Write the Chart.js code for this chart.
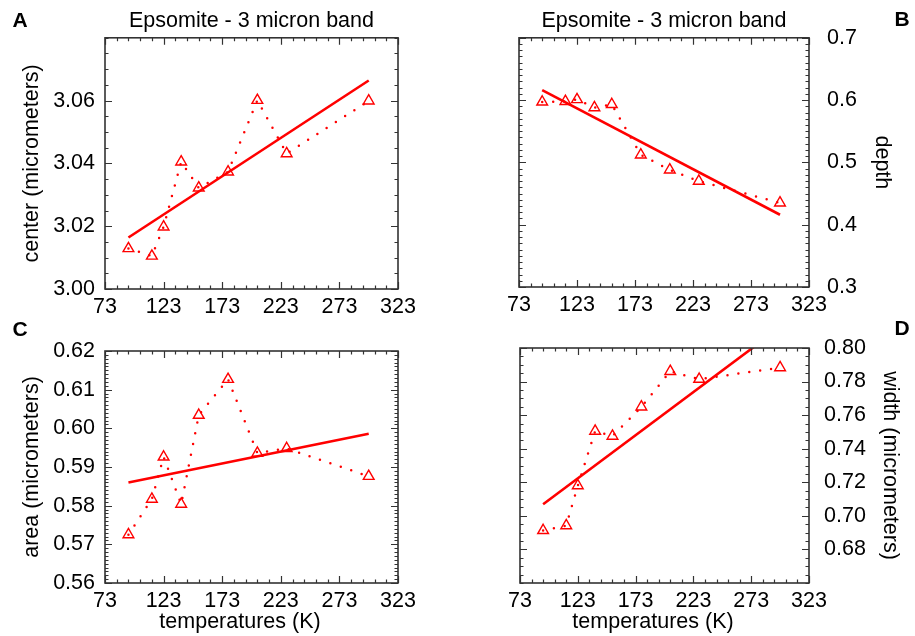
<!DOCTYPE html>
<html>
<head>
<meta charset="utf-8">
<script src="https://cdn.jsdelivr.net/npm/chart.js@4.4.1/dist/chart.umd.min.js"></script>
<style>
  body { margin: 0; background: #fff; }
  canvas { position: absolute; }
</style>
</head>
<body>
<canvas id="panelA" width="457" height="318" style="left:0;top:0"></canvas>
<canvas id="panelB" width="458" height="318" style="left:457px;top:0"></canvas>
<canvas id="panelC" width="457" height="318" style="left:0;top:318px"></canvas>
<canvas id="panelD" width="458" height="318" style="left:457px;top:318px"></canvas>
<script>
// measured temperatures (K)
const temps = [93, 113, 123, 138, 153, 178, 203, 228, 298];

// band parameters at each temperature
const center = [3.0129, 3.0105, 3.0198, 3.0405, 3.0322, 3.0373, 3.0601, 3.0431, 3.0599];
const depth = [0.597, 0.598, 0.601, 0.588, 0.593, 0.512, 0.488, 0.470, 0.435];
const area = [0.5725, 0.5817, 0.5926, 0.5804, 0.6034, 0.6127, 0.5936, 0.5948, 0.5876];
const width = [0.6913, 0.6942, 0.7180, 0.7505, 0.7475, 0.7649, 0.7861, 0.7814, 0.7883];

// linear fits, end points
const fitTemps = [93, 298];
const centerFit = [3.0164, 3.0664];
const depthFit = [0.616, 0.416];
const areaFit = [0.5860, 0.5986];
const widthFit = [0.7069, 0.8123];

// labelled ticks
const tempTicks = ['73', '123', '173', '223', '273', '323'];
const centerTicks = ['3.00', '3.02', '3.04', '3.06'];
const depthTicks = ['0.3', '0.4', '0.5', '0.6', '0.7'];
const areaTicks = ['0.56', '0.57', '0.58', '0.59', '0.60', '0.61', '0.62'];
const widthTicks = ['0.68', '0.70', '0.72', '0.74', '0.76', '0.78', '0.80'];

const RED = '#ff0000';
const FONT = "'Liberation Sans', Arial, sans-serif";

Chart.defaults.font.family = FONT;
Chart.defaults.color = '#000';

function pickLabels(labels) {
    return function (value) {
        const hit = labels.find(s => Math.abs(Number(s) - value) < 1e-6);
        return hit === undefined ? '' : hit;
    };
}

function pairs(xs, ys) {
    return xs.map((x, i) => ({x: x, y: ys[i]}));
}

// box around the plot with inward ticks on all four sides, panel letter, x title
const panelFrame = {
    id: 'panelFrame',
    afterDraw(chart, args, opts) {
        const ctx = chart.ctx;
        const a = chart.chartArea;
        const xs = chart.scales.x;
        const ys = chart.scales.y;
        ctx.save();
        ctx.strokeStyle = '#333';
        ctx.lineWidth = 1.2;
        ctx.beginPath();
        xs.ticks.forEach(t => {
            const px = Math.round(xs.getPixelForValue(t.value)) + 0.5;
            const len = t.label ? 7 : 3.5;
            ctx.moveTo(px, a.bottom); ctx.lineTo(px, a.bottom - len);
            ctx.moveTo(px, a.top); ctx.lineTo(px, a.top + len);
        });
        ys.ticks.forEach(t => {
            const py = Math.round(ys.getPixelForValue(t.value)) + 0.5;
            const len = t.label ? 7 : 3.5;
            ctx.moveTo(a.left, py); ctx.lineTo(a.left + len, py);
            ctx.moveTo(a.right, py); ctx.lineTo(a.right - len, py);
        });
        ctx.stroke();
        ctx.lineWidth = 1.6;
        ctx.strokeRect(a.left, a.top, a.right - a.left, a.bottom - a.top);

        ctx.fillStyle = '#000';
        ctx.textAlign = 'center';
        ctx.textBaseline = 'middle';
        ctx.font = 'bold 21px ' + FONT;
        ctx.fillText(opts.letter, opts.letterX, opts.letterY);
        if (opts.xTitle) {
            ctx.font = '21.5px ' + FONT;
            ctx.fillText(opts.xTitle, opts.xTitleX, opts.xTitleY);
        }
        ctx.restore();
    }
};

function makePanel(id, cfg) {
    const ctx = document.getElementById(id).getContext('2d');
    return new Chart(ctx, {
        type: 'scatter',
        data: {
            datasets: [{
                data: pairs(temps, cfg.values),
                showLine: true,
                borderColor: RED,
                borderWidth: 2.5,
                borderDash: [0, 11],
                borderCapStyle: 'round',
                pointStyle: 'triangle',
                pointRadius: 6.2,
                pointBorderWidth: 1.4,
                pointBorderColor: RED,
                pointBackgroundColor: 'rgba(0,0,0,0)'
            }, {
                data: pairs(fitTemps, cfg.fit),
                showLine: true,
                borderColor: RED,
                borderWidth: 2.6,
                pointRadius: 0
            }]
        },
        options: {
            responsive: false,
            animation: false,
            events: [],
            layout: { padding: cfg.padding },
            scales: {
                x: {
                    type: 'linear',
                    min: 73,
                    max: 323,
                    grid: { display: false, drawTicks: false },
                    border: { display: false },
                    afterFit: s => { s.height = cfg.xHeight; },
                    ticks: {
                        stepSize: 10,
                        autoSkip: false,
                        maxRotation: 0,
                        padding: 5,
                        font: { size: 21.5 },
                        callback: pickLabels(tempTicks)
                    }
                },
                y: {
                    type: 'linear',
                    position: cfg.yPos,
                    min: cfg.yMin,
                    max: cfg.yMax,
                    grid: { display: false, drawTicks: false },
                    border: { display: false },
                    afterFit: s => { s.width = cfg.yWidth; },
                    title: {
                        display: true,
                        text: cfg.yTitle,
                        font: { size: 21.5 },
                        padding: { top: cfg.yTitlePad }
                    },
                    ticks: {
                        stepSize: cfg.yStep,
                        autoSkip: false,
                        padding: cfg.yTickPad,
                        font: { size: 21.5 },
                        callback: pickLabels(cfg.yTicks)
                    }
                }
            },
            plugins: {
                legend: { display: false },
                tooltip: { enabled: false },
                title: {
                    display: !!cfg.title,
                    text: cfg.title,
                    fullSize: false,
                    font: { size: 21.5, weight: 'normal' },
                    padding: { top: 8, bottom: 4 }
                },
                panelFrame: cfg.frame
            }
        },
        plugins: [panelFrame]
    });
}

let chart_a = makePanel('panelA', {
    values: center, fit: centerFit,
    yMin: 3.00, yMax: 3.08, yStep: 0.005, yTicks: centerTicks,
    yPos: 'left', yTitle: 'center (micrometers)', yTitlePad: 19, yTickPad: 10,
    yWidth: 105, xHeight: 29,
    padding: { left: 0, right: 59, top: 0, bottom: 0 },
    title: 'Epsomite - 3 micron band',
    frame: { letter: 'A', letterX: 20, letterY: 21 }
});

let chart_b = makePanel('panelB', {
    values: depth, fit: depthFit,
    yMin: 0.3, yMax: 0.7, yStep: 0.01, yTicks: depthTicks,
    yPos: 'right', yTitle: 'depth', yTitlePad: 20, yTickPad: 18,
    yWidth: 106, xHeight: 31,
    padding: { left: 62, right: 0, top: 0, bottom: 0 },
    title: 'Epsomite - 3 micron band',
    frame: { letter: 'B', letterX: 445, letterY: 20 }
});

let chart_c = makePanel('panelC', {
    values: area, fit: areaFit,
    yMin: 0.56, yMax: 0.62, yStep: 0.001, yTicks: areaTicks,
    yPos: 'left', yTitle: 'area (micrometers)', yTitlePad: 19, yTickPad: 10,
    yWidth: 105, xHeight: 53,
    padding: { left: 0, right: 59, top: 33, bottom: 0 },
    frame: { letter: 'C', letterX: 20, letterY: 12,
             xTitle: 'temperatures (K)', xTitleX: 240, xTitleY: 304 }
});

let chart_d = makePanel('panelD', {
    values: width, fit: widthFit,
    yMin: 0.66, yMax: 0.80, yStep: 0.005, yTicks: widthTicks,
    yPos: 'right', yTitle: 'width (micrometers)', yTitlePad: 12, yTickPad: 15,
    yWidth: 106, xHeight: 53,
    padding: { left: 63, right: 0, top: 30, bottom: 0 },
    frame: { letter: 'D', letterX: 445, letterY: 11,
             xTitle: 'temperatures (K)', xTitleX: 196, xTitleY: 304 }
});
</script>
</body>
</html>
